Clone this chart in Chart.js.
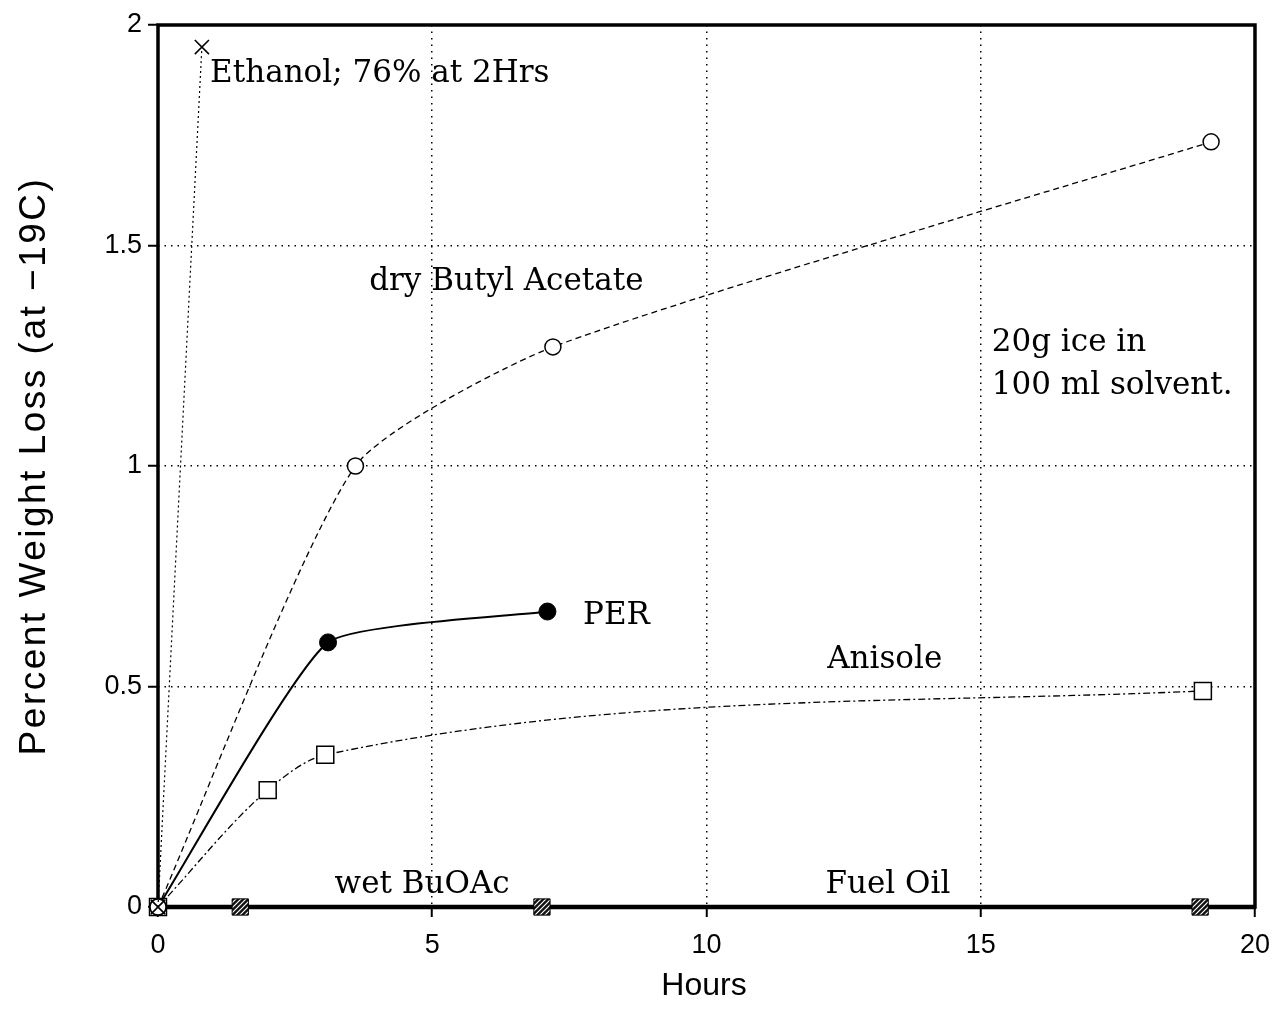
<!DOCTYPE html>
<html>
<head>
<meta charset="utf-8">
<script src="https://cdn.jsdelivr.net/npm/chart.js@4/dist/chart.umd.min.js"></script>
<style>
  html, body { margin: 0; padding: 0; background: #fff; }
  #wrap { width: 1282px; height: 1011px; }
</style>
</head>
<body>
<div id="wrap"><canvas id="c" width="1282" height="1011"></canvas></div>
<script>
// Weight loss of ice held in solvents at -19C, in percent, against hours.
const xTicks = [0, 5, 10, 15, 20];
const yTicks = [0, 0.5, 1, 1.5, 2];

const ethanolHours = [0, 0.8];
const ethanolLoss  = [0, 1.95];

const butylHours = [0, 3.6, 7.2, 19.2];
const butylLoss  = [0, 1.0, 1.27, 1.735];

const perHours = [0, 3.1, 7.1];
const perLoss  = [0, 0.6, 0.67];

const anisoleHours = [0, 2.0, 3.05, 19.05];
const anisoleLoss  = [0, 0.265, 0.345, 0.49];

const wetBuOAcHours = [0, 1.5, 7.0];
const wetBuOAcLoss  = [0, 0, 0];

const fuelOilHours = [0, 19.0];
const fuelOilLoss  = [0, 0];

const pts = (xs, ys) => xs.map((x, i) => ({ x, y: ys[i] }));

// cross-hatched fill for the zero-loss markers
function hatch() {
  const c = document.createElement('canvas');
  c.width = 5; c.height = 5;
  const g = c.getContext('2d');
  g.fillStyle = '#111';
  g.fillRect(0, 0, 5, 5);
  g.strokeStyle = '#fff';
  g.lineWidth = 1.2;
  g.beginPath();
  g.moveTo(0, 5); g.lineTo(5, 0);
  g.moveTo(-1, 1); g.lineTo(1, -1);
  g.moveTo(4, 6); g.lineTo(6, 4);
  g.stroke();
  return g.createPattern(c, 'repeat');
}
const hatchFill = hatch();

const SERIF = '"DejaVu Serif", serif';
const SANS = '"Liberation Sans", Arial, sans-serif';

const frame = {
  id: 'frame',
  beforeDatasetsDraw(chart) {
    const a = chart.chartArea, ctx = chart.ctx;
    ctx.save();
    ctx.strokeStyle = '#000';
    ctx.lineWidth = 3.5;
    ctx.strokeRect(a.left, a.top, a.right - a.left, a.bottom - a.top);
    ctx.lineWidth = 4.5;
    ctx.beginPath();
    ctx.moveTo(a.left - 1, a.bottom);
    ctx.lineTo(a.right + 1, a.bottom);
    ctx.stroke();
    ctx.restore();
  }
};

const notes = {
  id: 'notes',
  afterDraw(chart, args, opts) {
    const ctx = chart.ctx, xs = chart.scales.x, ys = chart.scales.y;
    ctx.save();
    ctx.fillStyle = '#000';
    ctx.textBaseline = 'middle';
    ctx.textAlign = 'left';
    ctx.font = opts.size + 'px ' + SERIF;
    for (const n of opts.items) {
      ctx.fillText(n.text, xs.getPixelForValue(n.x), ys.getPixelForValue(n.y));
    }
    // axis titles
    ctx.font = opts.xTitleSize + 'px ' + SANS;
    ctx.textAlign = 'center';
    ctx.fillText('Hours', 704, 986);
    ctx.translate(35, 466);
    ctx.rotate(-Math.PI / 2);
    ctx.font = opts.yTitleSize + 'px ' + SANS;
    ctx.letterSpacing = opts.yTitleSpacing + 'px';
    ctx.fillText('Percent Weight Loss (at \u221219C)', 0, 0);
    ctx.restore();
  }
};

const gridCfg = {
  color: '#000',
  lineWidth: 1.5,
  tickLength: 10,
  tickColor: '#000',
  tickWidth: 2,
  tickBorderDash: []
};
const borderCfg = { display: false, dash: [1.5, 5] };

new Chart(document.getElementById('c'), {
  type: 'scatter',
  data: {
    datasets: [
      {
        label: 'Ethanol',
        data: pts(ethanolHours, ethanolLoss),
        showLine: true, clip: false,
        borderColor: '#000', borderWidth: 1.2, borderDash: [2, 3],
        pointStyle: 'crossRot', pointRadius: 10, pointBorderWidth: 1.6,
        pointBorderColor: '#000', pointBackgroundColor: '#000'
      },
      {
        label: 'dry Butyl Acetate',
        data: pts(butylHours, butylLoss),
        showLine: true, tension: 0.2, clip: false,
        borderColor: '#000', borderWidth: 1.3, borderDash: [6, 4],
        pointStyle: 'circle', pointRadius: 8, pointBorderWidth: 1.5,
        pointBorderColor: '#000', pointBackgroundColor: '#fff'
      },
      {
        label: 'PER',
        data: pts(perHours, perLoss),
        showLine: true, tension: 0.15, clip: false,
        borderColor: '#000', borderWidth: 2,
        pointStyle: 'circle', pointRadius: 8.5, pointBorderWidth: 1,
        pointBorderColor: '#000', pointBackgroundColor: '#000'
      },
      {
        label: 'Anisole',
        data: pts(anisoleHours, anisoleLoss),
        showLine: true, cubicInterpolationMode: 'monotone', clip: false,
        borderColor: '#000', borderWidth: 1.3, borderDash: [7, 3, 2, 3],
        pointStyle: 'rect', pointRadius: 12, pointBorderWidth: 1.5,
        pointBorderColor: '#000', pointBackgroundColor: '#fff'
      },
      {
        label: 'wet BuOAc',
        data: pts(wetBuOAcHours, wetBuOAcLoss),
        showLine: true, clip: false,
        borderColor: '#000', borderWidth: 4,
        pointStyle: 'rect', pointRadius: 11.5, pointBorderWidth: 1,
        pointBorderColor: '#000', pointBackgroundColor: hatchFill
      },
      {
        label: 'Fuel Oil',
        data: pts(fuelOilHours, fuelOilLoss),
        showLine: true, clip: false,
        borderColor: '#000', borderWidth: 4,
        pointStyle: 'rect', pointRadius: 11.5, pointBorderWidth: 1,
        pointBorderColor: '#000', pointBackgroundColor: hatchFill
      }
    ]
  },
  options: {
    responsive: false,
    animation: false,
    events: [],
    layout: { padding: { top: 25, right: 26, left: 0, bottom: 0 } },
    plugins: {
      legend: { display: false },
      tooltip: { enabled: false },
      notes: {
        size: 31,
        xTitleSize: 32,
        yTitleSize: 37,
        yTitleSpacing: 2.5,
        items: [
          { text: 'Ethanol; 76% at 2Hrs', x: 0.95, y: 1.89 },
          { text: 'dry Butyl Acetate', x: 3.85, y: 1.418 },
          { text: '20g ice in', x: 15.2, y: 1.279 },
          { text: '100 ml solvent.', x: 15.2, y: 1.182 },
          { text: 'PER', x: 7.75, y: 0.66 },
          { text: 'Anisole', x: 12.2, y: 0.56 },
          { text: 'wet BuOAc', x: 3.22, y: 0.05 },
          { text: 'Fuel Oil', x: 12.17, y: 0.05 }
        ]
      }
    },
    scales: {
      x: {
        type: 'linear', min: 0, max: 20,
        afterBuildTicks: s => { s.ticks = xTicks.map(v => ({ value: v })); },
        afterFit: s => { s.height = 104; },
        ticks: { color: '#000', font: { family: SANS, size: 27 }, padding: 12, maxRotation: 0,
                 callback: v => String(v) },
        grid: gridCfg,
        border: borderCfg,
        title: { display: false }
      },
      y: {
        type: 'linear', min: 0, max: 2,
        afterBuildTicks: s => { s.ticks = yTicks.map(v => ({ value: v })); },
        afterFit: s => { s.width = 158; },
        ticks: { color: '#000', font: { family: SANS, size: 27 }, padding: 6,
                 callback: v => String(v) },
        grid: gridCfg,
        border: borderCfg,
        title: { display: false }
      }
    }
  },
  plugins: [frame, notes]
});
</script>
</body>
</html>
